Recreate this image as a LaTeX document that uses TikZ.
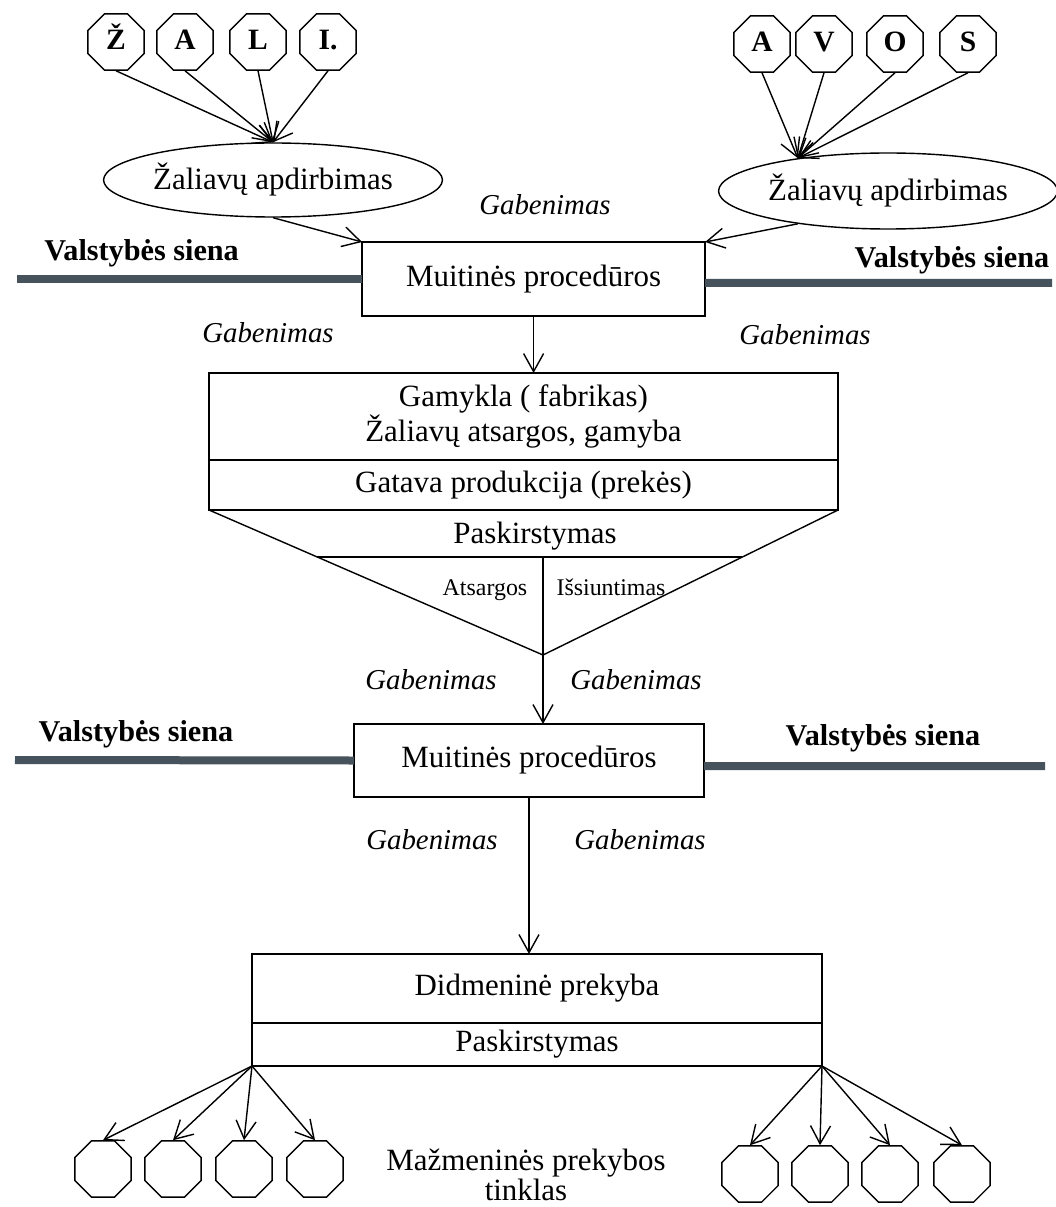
\documentclass[tikz,border=0pt]{standalone}
\usepackage{fontspec}
\setmainfont{Liberation Serif}
\usetikzlibrary{arrows.meta,positioning,shapes.geometric,calc}
\definecolor{sienaGray}{RGB}{70,82,92}

\begin{document}
\begin{tikzpicture}[
  txt/.style={font=\fontsize{22}{25}\selectfont, align=center},
  box/.style={draw, line width=1pt, txt, inner sep=0pt, outer sep=0pt, minimum height=1.85cm},
  oval/.style={draw, ellipse, line width=1pt, txt, inner sep=0pt, minimum width=7.75cm, minimum height=1.85cm},
  octa/.style={draw, regular polygon, regular polygon sides=8, line width=1pt, minimum size=1.52cm, inner sep=0pt, text height=1.1em, text depth=0pt, font=\fontsize{21}{21}\selectfont\bfseries},
  gab/.style={font=\fontsize{20.5}{24}\selectfont\itshape},
  siena/.style={font=\fontsize{21.5}{24}\selectfont\bfseries},
  small/.style={font=\fontsize{17}{20}\selectfont, anchor=base},
  arr/.style={line width=1pt, -{Straight Barb[length=4.5mm,width=5mm]}},
  border/.style={line width=0.2cm, draw=sienaGray}
]
  \useasboundingbox (0,0) rectangle (26.375,-30.175);

  % raw material sources
  \node[octa] (sZ) at (2.9,-1.05) {Ž};
  \node[octa] (sA) at (4.625,-1.05) {A};
  \node[octa] (sL) at (6.45,-1.05) {L};
  \node[octa] (sI) at (8.2,-1.05) {I.};
  \node[octa] (tA) at (19.05,-1.1) {A};
  \node[octa] (tV) at (20.6,-1.1) {V};
  \node[octa] (tO) at (22.375,-1.1) {O};
  \node[octa] (tS) at (24.2,-1.1) {S};

  \node[oval] (ellL) at (6.825,-4.5) {Žaliavų apdirbimas};
  \node[oval, minimum height=1.9cm] (ellR) at (22.2,-4.775) {Žaliavų apdirbimas};

  \draw[arr] (sZ.south) -- (ellL.north);
  \draw[arr] (sA.south) -- (ellL.north);
  \draw[arr] (sL.south) -- (ellL.north);
  \draw[arr] (sI.south) -- (ellL.north);
  \draw[arr] (tA.south) -- (ellR.160);
  \draw[arr] (tV.south) -- (ellR.160);
  \draw[arr] (tO.south) -- (ellR.160);
  \draw[arr] (tS.south) -- (ellR.160);

  % first border
  \node[gab] (gab0) at (13.625,-5.125) {Gabenimas};
  \node[box, minimum width=8.575cm] (mu1) at (13.34,-6.975) {Muitinės procedūros};
  \draw[arr] (ellL.south) -- (mu1.north west);
  \draw[arr] (ellR.200) -- (mu1.north east);
  \draw[border] (0.425,-6.975) -- (mu1.west);
  \draw[border] ($(mu1.east)+(0,-0.1)$) -- (26.3,-7.075);
  \node[siena] (vsL1) at (3.54,-6.33) {Valstybės siena};
  \node[siena] (vsR1) at (23.8,-6.5) {Valstybės siena};
  \node[gab] (gab1) at (6.7,-8.325) {Gabenimas};
  \node[gab] (gab2) at (20.125,-8.375) {Gabenimas};

  % factory
  \node[box, minimum width=15.725cm, minimum height=2.175cm] (fac1) at (13.0875,-10.4125) {Gamykla ( fabrikas)\\Žaliavų atsargos, gamyba};
  \node[box, minimum width=15.725cm, minimum height=1.25cm, below=0pt of fac1] (fac2) {Gatava produkcija (prekės)};
  \draw[arr] (mu1.south) -- (mu1.south |- fac1.north);

  \coordinate (apex) at (13.575,-16.375);
  \draw[line width=1pt] (fac2.south west) -- (apex) -- (fac2.south east);
  \coordinate (splitL) at ($(fac2.south west)!0.324!(apex)$);
  \coordinate (splitR) at ($(fac2.south east)!0.324!(apex)$);
  \draw[line width=1pt] (splitL) -- (splitR);
  \draw[line width=1pt] (apex |- splitL) -- (apex);
  \node[txt] (pask1) at (13.375,-13.4) {Paskirstymas};
  \node[small] (atsarg) at (12.125,-14.88) {Atsargos};
  \node[small] (issiunt) at (15.275,-14.88) {Išsiuntimas};

  % second border
  \node[gab] (gab3) at (10.775,-17.0) {Gabenimas};
  \node[gab] (gab4) at (15.9,-17.0) {Gabenimas};
  \node[box, minimum width=8.75cm, minimum height=1.825cm] (mu2) at (13.225,-19.0125) {Muitinės procedūros};
  \draw[arr] (apex) -- (apex |- mu2.north);
  \draw[border] (0.375,-19.0) -- (mu2.west);
  \draw[border] ($(mu2.east)+(0,-0.14)$) -- (26.125,-19.15);
  \node[siena] (vsL2) at (3.4,-18.35) {Valstybės siena};
  \node[siena] (vsR2) at (22.075,-18.45) {Valstybės siena};
  \node[gab] (gab5) at (10.8,-21.0) {Gabenimas};
  \node[gab] (gab6) at (16.0,-21.0) {Gabenimas};

  % wholesale and retail
  \node[box, minimum width=14.25cm, minimum height=1.725cm] (did1) at (13.425,-24.7125) {Didmeninė prekyba};
  \node[box, minimum width=14.25cm, minimum height=1.075cm, below=0pt of did1] (did2) {Paskirstymas};
  \draw[arr] (mu2.south) -- (mu2.south |- did1.north);

  \node[octa] (rL1) at (2.575,-29.225) {};
  \node[octa] (rL2) at (4.325,-29.225) {};
  \node[octa] (rL3) at (6.1,-29.225) {};
  \node[octa] (rL4) at (7.875,-29.225) {};
  \node[octa] (rR1) at (18.75,-29.35) {};
  \node[octa] (rR2) at (20.5,-29.35) {};
  \node[octa] (rR3) at (22.25,-29.35) {};
  \node[octa] (rR4) at (24.05,-29.35) {};
  \draw[arr] (did2.south west) -- (rL1.north);
  \draw[arr] (did2.south west) -- (rL2.north);
  \draw[arr] (did2.south west) -- (rL3.north);
  \draw[arr] (did2.south west) -- (rL4.north);
  \draw[arr] (did2.south east) -- (rR1.north);
  \draw[arr] (did2.south east) -- (rR2.north);
  \draw[arr] (did2.south east) -- (rR3.north);
  \draw[arr] (did2.south east) -- (rR4.north);
  \node[txt, font=\fontsize{22}{20}\selectfont] (mazm) at (13.15,-29.375) {Mažmeninės prekybos\\tinklas};
\end{tikzpicture}
\end{document}
